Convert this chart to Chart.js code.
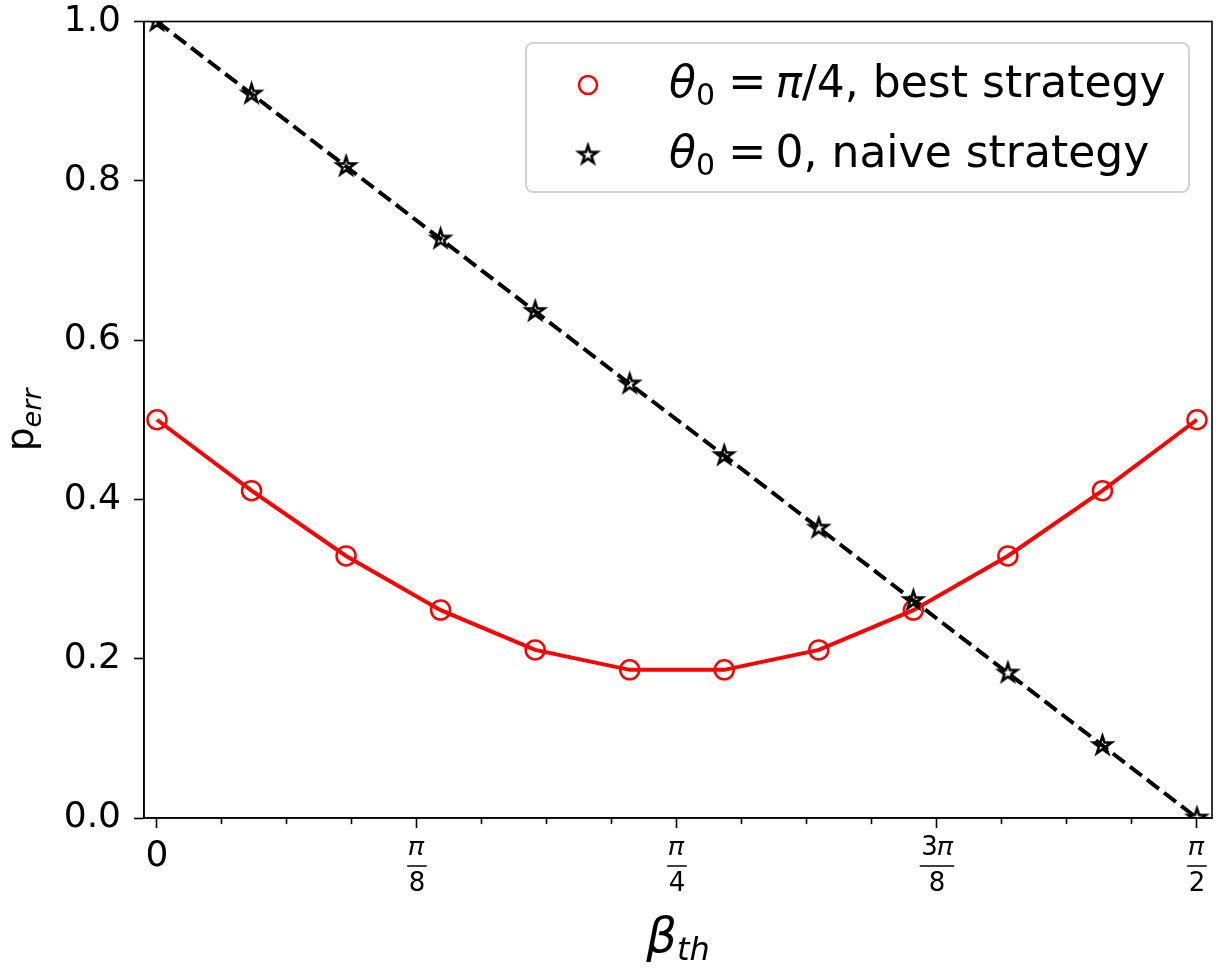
<!DOCTYPE html>
<html>
<head>
<meta charset="utf-8">
<script src="https://cdn.jsdelivr.net/npm/chart.js@4.4.1/dist/chart.umd.min.js"></script>
<style>
  html, body { margin: 0; padding: 0; background: #fff; }
  #wrap { width: 1221px; height: 969px; }
</style>
</head>
<body>
<div id="wrap"><canvas id="chart" width="1221" height="969"></canvas></div>
<script>
// beta_th sample points (0 .. pi/2, 12 points)
const betaTh = [0, 0.1428, 0.2856, 0.4284, 0.5712, 0.7140, 0.8568, 0.9996, 1.1424, 1.2852, 1.4280, 1.5708];
// theta0 = pi/4, best strategy
const pBest = [0.500, 0.411, 0.329, 0.261, 0.211, 0.186, 0.186, 0.211, 0.261, 0.329, 0.411, 0.500];
// theta0 = 0, naive strategy
const pNaive = [1.000, 0.909, 0.818, 0.727, 0.636, 0.545, 0.455, 0.364, 0.273, 0.182, 0.091, 0.000];

const xTickLabels = ['0', ['𝜋', '8'], ['𝜋', '4'], ['3𝜋', '8'], ['𝜋', '2']];
const FONT = 'DejaVu Sans';

Chart.defaults.font.family = FONT;
Chart.defaults.color = '#000';

// 5 point star marker (Chart.js 'star' is an asterisk)
function makeStar(r, lw) {
    const s = Math.ceil(2 * r + lw * 2 + 2);
    const c = document.createElement('canvas');
    c.width = c.height = s;
    const g = c.getContext('2d');
    g.translate(s / 2, s / 2);
    g.beginPath();
    for (let i = 0; i < 10; i++) {
        const a = -Math.PI / 2 + i * Math.PI / 5;
        const rr = i % 2 ? r * 0.382 : r;
        g.lineTo(rr * Math.cos(a), rr * Math.sin(a));
    }
    g.closePath();
    g.lineWidth = lw;
    g.strokeStyle = '#000';
    g.stroke();
    return c;
}
const starImg = makeStar(9.5, 2.6);

// draw text pieces with different fonts / offsets (sub-scripts)
function drawRich(ctx, parts, x, y, align) {
    let w = 0;
    parts.forEach(p => { ctx.font = p[1]; w += ctx.measureText(p[0]).width + (p[3] || 0); });
    let cx = align === 'center' ? x - w / 2 : x;
    parts.forEach(p => {
        ctx.font = p[1];
        ctx.fillText(p[0], cx, y + (p[2] || 0));
        cx += ctx.measureText(p[0]).width + (p[3] || 0);
    });
}

const noPad = (s) => { s.paddingTop = 0; s.paddingBottom = 0; s.paddingLeft = 0; s.paddingRight = 0; };

const extras = {
    id: 'extras',
    afterDraw(chart) {
        const ctx = chart.ctx;
        const a = chart.chartArea;
        const xs = chart.scales.x;
        ctx.save();
        ctx.fillStyle = '#000';
        ctx.strokeStyle = '#000';

        // axes frame
        ctx.lineWidth = 1.6;
        ctx.strokeRect(a.left, a.top, a.right - a.left, a.bottom - a.top);

        // fraction bars in x tick labels
        ctx.lineWidth = 1.5;
        const barY = a.bottom + 10 + 2 + 36;
        xTickLabels.forEach((lab, i) => {
            if (!Array.isArray(lab)) return;
            const px = xs.getPixelForValue(i * Math.PI / 8);
            ctx.font = '26px ' + FONT;
            const w = Math.max(ctx.measureText(lab[0]).width, ctx.measureText(lab[1]).width) + 3;
            ctx.beginPath();
            ctx.moveTo(px - w / 2, barY);
            ctx.lineTo(px + w / 2, barY);
            ctx.stroke();
        });

        // x axis title
        ctx.textBaseline = 'alphabetic';
        drawRich(ctx, [
            ['β', 'italic 48px ' + FONT],
            ['th', 'italic 32px ' + FONT, 8]
        ], (a.left + a.right) / 2, 952, 'center');

        // y axis title
        ctx.save();
        ctx.translate(33, (a.top + a.bottom) / 2);
        ctx.rotate(-Math.PI / 2);
        drawRich(ctx, [
            ['p', '37px ' + FONT],
            ['err', 'italic 27px ' + FONT, 8]
        ], 0, 0, 'center');
        ctx.restore();

        // legend
        const bw = 663, bh = 149;
        const bx = a.right - 23 - bw, by = a.top + 21.5;
        ctx.beginPath();
        ctx.roundRect(bx, by, bw, bh, 7);
        ctx.fillStyle = 'rgba(255,255,255,0.8)';
        ctx.fill();
        ctx.strokeStyle = '#d3d3d3';
        ctx.lineWidth = 2;
        ctx.stroke();

        const mx = bx + 62, tx = bx + 143;
        const r1 = by + 42, r2 = by + 112;
        ctx.strokeStyle = '#ff0000';
        ctx.lineWidth = 2.5;
        ctx.beginPath();
        ctx.arc(mx, r1, 9, 0, Math.PI * 2);
        ctx.stroke();
        ctx.drawImage(starImg, mx - starImg.width / 2, r2 - starImg.height / 2);

        ctx.fillStyle = '#000';
        const big = '44px ' + FONT, it = 'italic 44px ' + FONT, sub = '30px ' + FONT, eq = '46px ' + FONT;
        drawRich(ctx, [
            ['θ', it], ['0', sub, 8, 13], ['=', eq, 0, 9], ['π', it], ['/4, best strategy', big]
        ], tx, r1 + 12, 'left');
        drawRich(ctx, [
            ['θ', it], ['0', sub, 8, 13], ['=', eq, 0, 9], ['0, naive strategy', big]
        ], tx, r2 + 12, 'left');

        ctx.restore();
    }
};

new Chart(document.getElementById('chart'), {
    type: 'line',
    data: {
        datasets: [
            {
                label: 'θ0 = π/4, best strategy',
                data: betaTh.map((b, i) => ({ x: b, y: pBest[i] })),
                borderColor: '#ff0000',
                borderWidth: 4,
                pointStyle: 'circle',
                pointRadius: 9.5,
                pointBorderWidth: 2.5,
                pointBorderColor: '#ff0000',
                pointBackgroundColor: 'rgba(0,0,0,0)',
                tension: 0,
                clip: 0,
                order: 1
            },
            {
                label: 'θ0 = 0, naive strategy',
                data: betaTh.map((b, i) => ({ x: b, y: pNaive[i] })),
                borderColor: '#000',
                borderWidth: 4,
                borderDash: [15, 6.5],
                pointStyle: starImg,
                pointRadius: 10,
                tension: 0,
                clip: 0,
                order: 0
            }
        ]
    },
    options: {
        responsive: false,
        animation: false,
        devicePixelRatio: 1,
        layout: { autoPadding: false, padding: { top: 21.5, right: 9, left: 0, bottom: 0 } },
        plugins: { legend: { display: false }, tooltip: { enabled: false } },
        scales: {
            x: {
                type: 'linear',
                min: -0.0196,
                max: 1.5935,
                afterBuildTicks: (s) => {
                    s.ticks = [];
                    for (let k = 0; k <= 16; k++) s.ticks.push({ value: k * Math.PI / 32 });
                },
                afterFit: (s) => { s.height = 151; noPad(s); },
                ticks: {
                    autoSkip: false,
                    maxRotation: 0,
                    minRotation: 0,
                    padding: 2,
                    color: '#000',
                    font: (c) => c.index === 0 ? { size: 36, lineHeight: 1.5 } : { size: 26, lineHeight: 1.385 },
                    callback: (v, i) => i % 4 === 0 ? xTickLabels[i / 4] : ''
                },
                grid: {
                    drawOnChartArea: false,
                    drawTicks: true,
                    tickLength: 10,
                    tickWidth: 1.6,
                    tickColor: '#000',
                    tickBorderDash: (c) => c.index % 4 === 0 ? [] : [5.5, 60]
                },
                border: { display: true, color: '#000', width: 1.6 }
            },
            y: {
                min: 0,
                max: 1,
                afterFit: (s) => { s.width = 144; noPad(s); },
                ticks: {
                    stepSize: 0.2,
                    padding: 13,
                    color: '#000',
                    font: { size: 36 },
                    callback: (v) => v.toFixed(1)
                },
                grid: {
                    drawOnChartArea: false,
                    drawTicks: true,
                    tickLength: 10,
                    tickWidth: 1.6,
                    tickColor: '#000'
                },
                border: { display: true, color: '#000', width: 1.6 }
            }
        }
    },
    plugins: [extras]
});
</script>
</body>
</html>
